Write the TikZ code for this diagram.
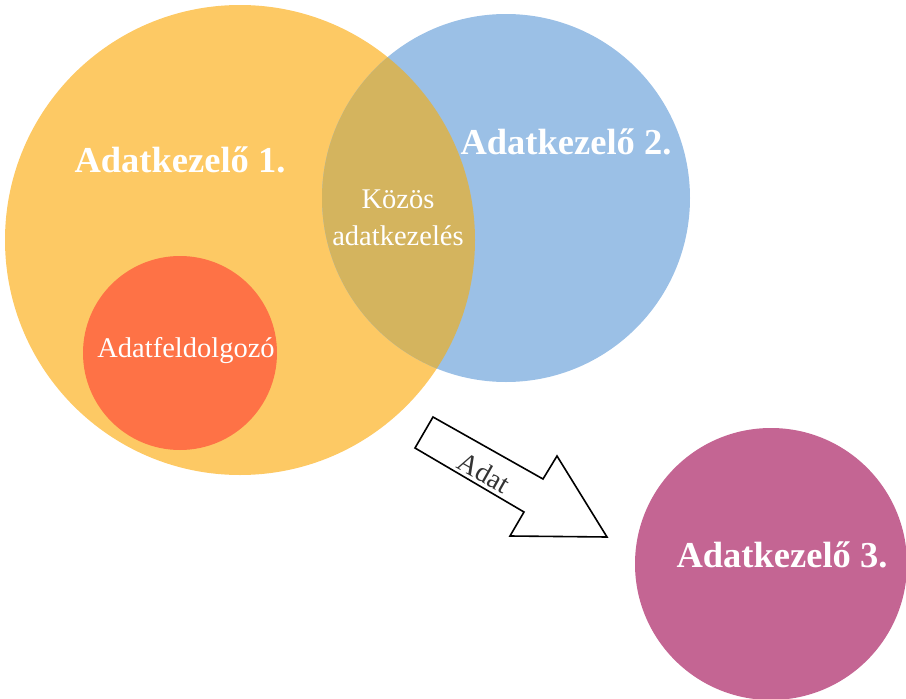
\documentclass[tikz,border=0pt]{standalone}
\usepackage{fontspec}
\setmainfont{Liberation Serif}
\definecolor{cyellow}{HTML}{FDC964}
\definecolor{cblue}{HTML}{9BC0E6}
\definecolor{cmix}{HTML}{D4B45E}
\definecolor{cred}{HTML}{FE7246}
\definecolor{cpurple}{HTML}{C46593}
\tikzset{
  disc/.style={circle, inner sep=0pt, draw=none},
  bigtxt/.style={text=white, font=\fontsize{36.5}{40}\selectfont\bfseries},
  midtxt/.style={text=white, font=\fontsize{28.5}{37}\selectfont, align=center},
  arrowshape/.style={draw=black, line width=1.6pt, fill=white, line join=miter},
}
\begin{document}
\begin{tikzpicture}[x=1pt,y=-1pt]
\useasboundingbox (0,0) rectangle (906,699);
\node[disc, fill=cyellow, minimum size=470pt] (c1) at (240,240) {};
\node[disc, fill=cblue, minimum size=368pt] (c2) at (506,198) {};
\begin{scope}
  \clip (240,240) circle (235pt);
  \fill[cmix] (506,198) circle (184pt);
\end{scope}
\node[disc, fill=cred, minimum size=194pt] (c4) at (180,353) {};
\node[disc, fill=cpurple, minimum size=272pt] (c3) at (771,564) {};
\node[bigtxt] (t1) at (180,160) {Adatkezelő 1.};
\node[bigtxt] (t2) at (566,142) {Adatkezelő 2.};
\node[bigtxt] (t3) at (782,555) {Adatkezelő 3.};
\node[midtxt] (t4) at (398,218) {Közös\\adatkezelés};
\node[midtxt] (t5) at (186,351) {Adatfeldolgozó};
\filldraw[arrowshape] (415,448) -- (433,417) -- (543,479) -- (557,456) -- (607,537) -- (510,536) -- (524,512) -- cycle;
\node[rotate=-29.4, text=black!80, font=\fontsize{28}{30}\selectfont] (t6) at (484,473) {Adat};
\end{tikzpicture}
\end{document}
